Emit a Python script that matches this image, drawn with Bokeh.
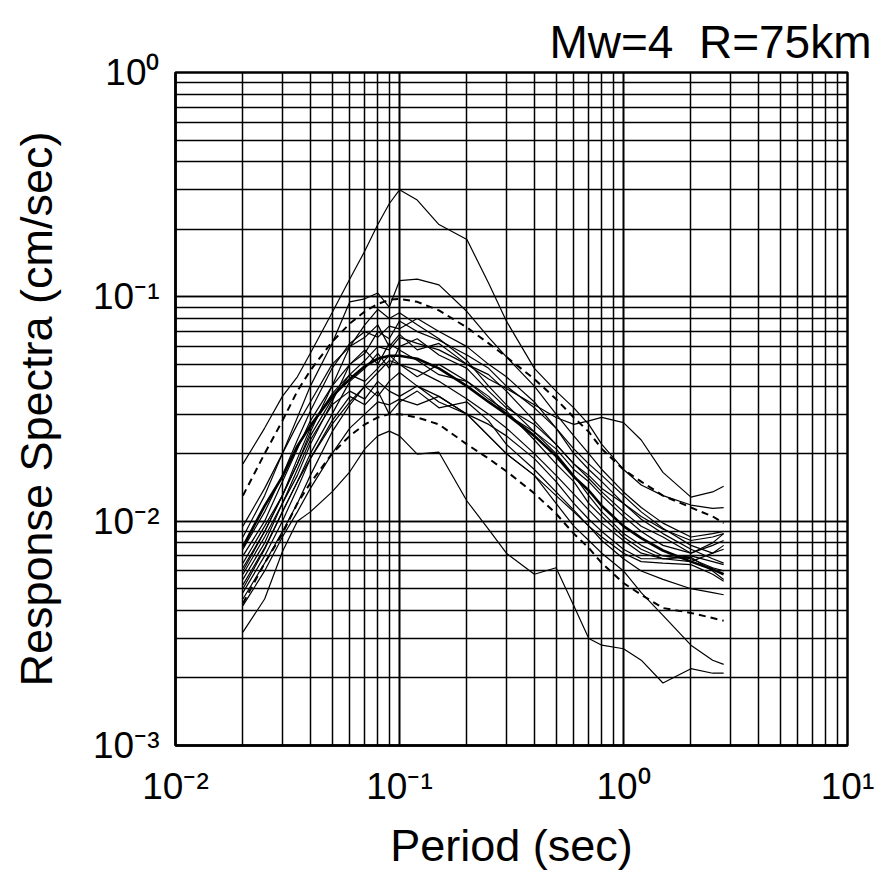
from bokeh.plotting import figure
from bokeh.models import Range1d
from bokeh.embed import file_html
from bokeh.resources import INLINE

# ---------------- data ----------------
period = [0.02, 0.025, 0.03, 0.035, 0.04, 0.05, 0.06, 0.07, 0.08, 0.09, 0.1, 0.12,
          0.15, 0.2, 0.25, 0.3, 0.4, 0.5, 0.6, 0.7, 0.8, 1.0, 1.2, 1.5, 2.0, 2.5, 2.8]

rec_a = [0.018, 0.026, 0.036, 0.044, 0.056, 0.085, 0.12, 0.16, 0.21, 0.26, 0.30, 0.27, 0.21,
         0.18, 0.115, 0.078, 0.048, 0.038, 0.032, 0.027, 0.022, 0.017, 0.0145, 0.013, 0.0118, 0.0114, 0.0115]
rec_b = [0.0065, 0.0095, 0.013, 0.018, 0.024, 0.035, 0.045, 0.052, 0.06, 0.058, 0.066, 0.062, 0.058,
         0.05, 0.043, 0.039, 0.033, 0.029, 0.027, 0.028, 0.029, 0.0275, 0.023, 0.0165, 0.0128, 0.0135, 0.0143]
rec_c = [0.0085, 0.013, 0.02, 0.029, 0.04, 0.062, 0.095, 0.098, 0.104, 0.09, 0.118, 0.12, 0.113,
         0.086, 0.066, 0.054, 0.04, 0.03, 0.024, 0.02, 0.017, 0.0135, 0.0115, 0.0098, 0.0085, 0.0088, 0.009]
rec_d = [0.0032, 0.0045, 0.0073, 0.0100, 0.011, 0.0135, 0.0166, 0.021, 0.024, 0.0252, 0.024, 0.0199, 0.0203,
         0.0123, 0.0092, 0.0072, 0.0058, 0.0062, 0.0042, 0.0030, 0.0028, 0.0027, 0.0024, 0.0019, 0.0022, 0.0021, 0.0021]
rec_e = [0.005, 0.0075, 0.011, 0.015, 0.019, 0.027, 0.034, 0.04, 0.036, 0.042, 0.046, 0.04, 0.036,
         0.03, 0.024, 0.02, 0.016, 0.012, 0.0095, 0.0082, 0.0072, 0.006, 0.0048, 0.0038, 0.0028, 0.0024, 0.0023]
rec_f = [0.0075, 0.011, 0.016, 0.023, 0.031, 0.048, 0.062, 0.07, 0.066, 0.074, 0.072, 0.08, 0.07,
         0.06, 0.05, 0.044, 0.034, 0.026, 0.021, 0.018, 0.016, 0.013, 0.011, 0.0093, 0.0078, 0.0072, 0.0075]
rec_g = [0.006, 0.009, 0.013, 0.018, 0.025, 0.04, 0.06, 0.075, 0.088, 0.08, 0.085, 0.075, 0.065,
         0.052, 0.04, 0.033, 0.025, 0.02, 0.016, 0.013, 0.011, 0.0088, 0.0078, 0.007, 0.0068, 0.0062, 0.006]
rec_h = [0.0045, 0.0065, 0.009, 0.012, 0.016, 0.025, 0.033, 0.04, 0.046, 0.052, 0.05, 0.044, 0.05,
         0.042, 0.035, 0.031, 0.023, 0.018, 0.015, 0.012, 0.0105, 0.0085, 0.0075, 0.0068, 0.0069, 0.006, 0.0055]
rec_i = [0.0058, 0.0085, 0.012, 0.017, 0.023, 0.033, 0.038, 0.035, 0.042, 0.038, 0.036, 0.04, 0.034,
         0.03, 0.027, 0.024, 0.019, 0.015, 0.012, 0.0102, 0.009, 0.0075, 0.0068, 0.0068, 0.007, 0.0066, 0.0064]
rec_j = [0.007, 0.01, 0.015, 0.021, 0.028, 0.04, 0.05, 0.058, 0.05, 0.062, 0.058, 0.052, 0.045,
         0.042, 0.036, 0.03, 0.025, 0.021, 0.017, 0.015, 0.013, 0.0105, 0.009, 0.0078, 0.0072, 0.0078, 0.0082]
rec_k = [0.0042, 0.006, 0.0085, 0.011, 0.014, 0.02, 0.026, 0.03, 0.034, 0.033, 0.035, 0.033, 0.036,
         0.03, 0.024, 0.02, 0.016, 0.013, 0.011, 0.0095, 0.0082, 0.0068, 0.006, 0.0055, 0.005, 0.0048, 0.0047]
rec_l = [0.0052, 0.0076, 0.011, 0.015, 0.02, 0.03, 0.042, 0.048, 0.056, 0.048, 0.06, 0.065, 0.055,
         0.048, 0.038, 0.032, 0.027, 0.022, 0.018, 0.0155, 0.0135, 0.011, 0.0095, 0.0085, 0.0072, 0.008, 0.0088]
rec_m = [0.0095, 0.014, 0.02, 0.027, 0.034, 0.05, 0.06, 0.066, 0.075, 0.06, 0.068, 0.058, 0.062,
         0.05, 0.045, 0.038, 0.028, 0.022, 0.018, 0.016, 0.014, 0.012, 0.0105, 0.0092, 0.0082, 0.0085, 0.0088]
rec_n = [0.0062, 0.009, 0.013, 0.019, 0.026, 0.037, 0.045, 0.042, 0.048, 0.055, 0.05, 0.047, 0.042,
         0.035, 0.03, 0.026, 0.02, 0.016, 0.0132, 0.0112, 0.0098, 0.0082, 0.0072, 0.0068, 0.0066, 0.0072, 0.0078]
rec_o = [0.0048, 0.007, 0.01, 0.014, 0.019, 0.028, 0.036, 0.033, 0.038, 0.03, 0.034, 0.038, 0.032,
         0.034, 0.028, 0.022, 0.017, 0.0135, 0.0112, 0.0095, 0.0085, 0.0072, 0.0066, 0.0065, 0.0064, 0.0058, 0.0054]
rec_p = [0.0055, 0.008, 0.012, 0.016, 0.022, 0.034, 0.05, 0.056, 0.07, 0.065, 0.078, 0.07, 0.064,
         0.055, 0.048, 0.04, 0.032, 0.026, 0.02, 0.017, 0.015, 0.012, 0.0102, 0.0088, 0.0075, 0.0068, 0.0065]

mean_curve = [0.0077, 0.0117, 0.0158, 0.0216, 0.0266, 0.036, 0.043, 0.049, 0.053, 0.0546, 0.0546, 0.053, 0.048,
              0.040, 0.034, 0.030, 0.024, 0.0195, 0.0158, 0.0137, 0.0117, 0.0095, 0.0084, 0.0074, 0.0066, 0.0061, 0.0058]
upper_dashed = [0.013, 0.02, 0.028, 0.038, 0.047, 0.063, 0.076, 0.086, 0.093, 0.097, 0.098, 0.095, 0.087,
                0.073, 0.062, 0.054, 0.043, 0.035, 0.029, 0.025, 0.021, 0.017, 0.015, 0.013, 0.0115, 0.0105, 0.0098]
lower_dashed = [0.0043, 0.0065, 0.0088, 0.012, 0.0148, 0.02, 0.024, 0.027, 0.029, 0.030, 0.030, 0.029, 0.027,
                0.022, 0.019, 0.0167, 0.0133, 0.0108, 0.0088, 0.0076, 0.0065, 0.0053, 0.0047, 0.0041, 0.0039, 0.0037, 0.0036]

records = [rec_a, rec_b, rec_c, rec_d, rec_e, rec_f, rec_g, rec_h,
           rec_i, rec_j, rec_k, rec_l, rec_m, rec_n, rec_o, rec_p]

x_tick_values = [0.01, 0.1, 1, 10]
x_tick_labels = ["10\u207b\u00b2", "10\u207b\u00b9", "10\u2070", "10\u00b9"]
y_tick_values = [0.001, 0.01, 0.1, 1]
y_tick_labels = ["10\u207b\u00b3", "10\u207b\u00b2", "10\u207b\u00b9", "10\u2070"]

title_text = "Mw=4\u00a0\u00a0R=75km"
x_label = "Period (sec)"
y_label = "Response Spectra (cm/sec)"

# ---------------- figure ----------------
FONT = "Liberation Sans"
p = figure(width=885, height=885, x_axis_type="log", y_axis_type="log",
           x_range=Range1d(0.01, 10), y_range=Range1d(0.001, 1),
           output_backend="svg", toolbar_location=None,
           min_border_left=175, min_border_right=38, min_border_top=72, min_border_bottom=140)

p.background_fill_color = "white"
p.border_fill_color = "white"
p.outline_line_color = "black"
p.outline_line_width = 2.5

p.title.text = title_text
p.title.align = "right"
p.title.offset = -24
p.title.text_font = FONT
p.title.text_font_size = "46px"
p.title.text_font_style = "normal"
p.title.text_color = "black"

for g in p.grid:
    g.grid_line_color = "black"
    g.grid_line_width = 1.7
    g.grid_line_alpha = 1.0
    g.minor_grid_line_color = "black"
    g.minor_grid_line_width = 1.5
    g.minor_grid_line_alpha = 1.0

for ax in (p.xaxis[0], p.yaxis[0]):
    ax.axis_line_color = "black"
    ax.axis_line_width = 2.5
    ax.major_tick_line_color = None
    ax.minor_tick_line_color = None
    ax.major_label_text_font = FONT
    ax.major_label_text_font_size = "37px"
    ax.major_label_text_color = "black"
    ax.axis_label_text_font = FONT
    ax.axis_label_text_font_size = "45px"
    ax.axis_label_text_font_style = "normal"
    ax.axis_label_text_color = "black"

p.xaxis.major_label_overrides = dict(zip(x_tick_values, x_tick_labels))
p.yaxis.major_label_overrides = dict(zip(y_tick_values, y_tick_labels))
p.xaxis.axis_label = x_label
p.yaxis.axis_label = y_label
p.xaxis.major_label_standoff = 14
p.yaxis.major_label_standoff = 10
p.xaxis.axis_label_standoff = 10
p.yaxis.axis_label_standoff = 28

for rec in records:
    p.line(period, rec, line_color="black", line_width=1.2)

p.line(period, mean_curve, line_color="black", line_width=2.6)
p.line(period, upper_dashed, line_color="black", line_width=2.0, line_dash="7 5")
p.line(period, lower_dashed, line_color="black", line_width=2.0, line_dash="7 5")

open("out.html", "w").write(file_html(p, INLINE))
